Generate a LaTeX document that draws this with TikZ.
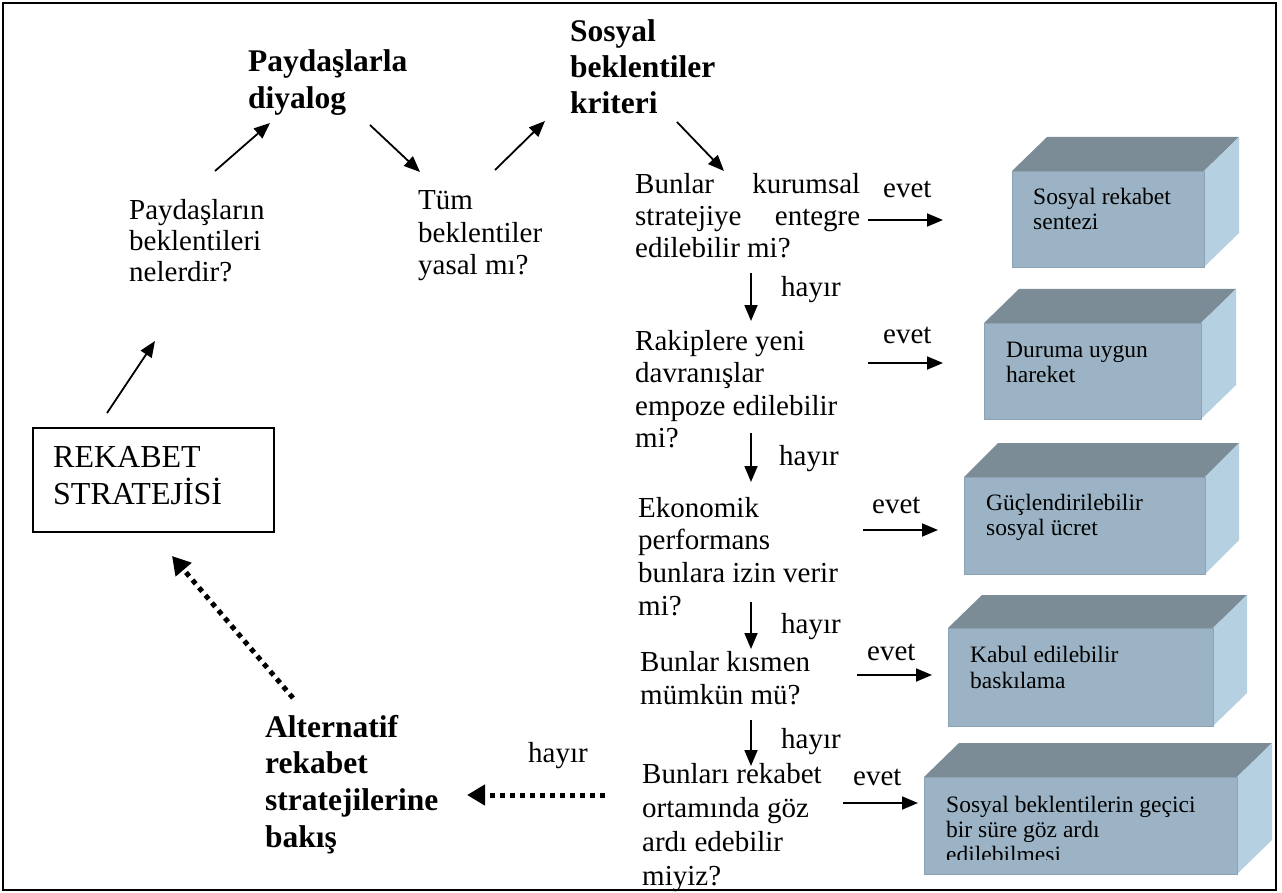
\documentclass[tikz,border=0pt]{standalone}
\usepackage{fontspec}
\setmainfont{Liberation Serif}
\usetikzlibrary{arrows.meta}

% multi-line text block whose reference point is the first baseline
\newcommand\textlines[2]{\parbox[t]{#1}{\raggedright #2}}

% a shaded 3D block: front face (x1,y1)-(x2,y2), depth (dx,dy)
\newcommand\blockshape[7]{%
  \fill[topface] (#2,#3) -- (#2+#6,#3-#7) -- (#4+#6,#3-#7) -- (#4,#3) -- cycle;
  \fill[sideface] (#4,#3) -- (#4+#6,#3-#7) -- (#4+#6,#5-#7) -- (#4,#5) -- cycle;
  \node[frontface, anchor=north west, minimum width=#4-#2, minimum height=#5-#3] (#1) at (#2,#3) {};
}

\definecolor{frontcol}{HTML}{9BB3C4}
\definecolor{frontedge}{HTML}{8CA3B4}
\definecolor{topcol}{HTML}{7B8C97}
\definecolor{sidecol}{HTML}{B4D0E1}

\tikzset{
  txt/.style={anchor=base west, inner sep=0pt, font=\fontsize{29}{33}\selectfont},
  head/.style={anchor=base west, inner sep=0pt, font=\bfseries\fontsize{31.5}{36.5}\selectfont},
  boxtxt/.style={anchor=base west, inner sep=0pt, font=\fontsize{23.5}{25}\selectfont},
  topface/.style={fill=topcol},
  sideface/.style={fill=sidecol},
  frontface/.style={fill=frontcol, draw=frontedge, line width=1.2pt, inner sep=0pt},
  flow/.style={line width=1.8pt, -{Triangle[length=16pt,width=13pt]}},
  dotflow/.style={line width=5pt, dash pattern=on 5pt off 5pt, -{Triangle[length=18pt,width=20pt]}}
}

\begin{document}
\begin{tikzpicture}[x=1pt, y=-1pt]
\useasboundingbox (0,0) rectangle (1282,893);
\fill[white] (0,0) rectangle (1282,893);
\draw[line width=2.2pt] (3,3) rectangle (1276,890);

% strategy box
\node[draw, line width=2pt, anchor=north west, minimum width=241pt, minimum height=104pt, inner sep=0pt] (strat) at (32,427) {};
\node[txt, font=\fontsize{32}{37}\selectfont] (strattxt) at (53,467) {\textlines{220pt}{REKABET\\STRATEJİSİ}};

% left-hand cycle
\node[txt, font=\fontsize{29}{31}\selectfont] (beklenti) at (129,220) {\textlines{200pt}{Paydaşların\\beklentileri\\nelerdir?}};
\node[head] (diyalog) at (248,72) {\textlines{250pt}{Paydaşlarla\\diyalog}};
\node[txt, font=\fontsize{29}{32.5}\selectfont] (yasal) at (418,210) {\textlines{200pt}{Tüm\\beklentiler\\yasal mı?}};
\node[head, font=\bfseries\fontsize{31.5}{35.8}\selectfont] (kriter) at (570,42) {\textlines{250pt}{Sosyal\\beklentiler\\kriteri}};

\coordinate (a1s) at (107,413); \coordinate (a1e) at (155,341);
\coordinate (a2s) at (215,171); \coordinate (a2e) at (270,123);
\coordinate (a3s) at (370,125); \coordinate (a3e) at (420,172);
\coordinate (a4s) at (495,170); \coordinate (a4e) at (545,121);
\coordinate (a5s) at (677,122); \coordinate (a5e) at (724,171);
\draw[flow] (a1s) -- (a1e);
\draw[flow] (a2s) -- (a2e);
\draw[flow] (a3s) -- (a3e);
\draw[flow] (a4s) -- (a4e);
\draw[flow] (a5s) -- (a5e);

% questions
\node[txt, font=\fontsize{29}{32}\selectfont] (q1) at (635,194) {\parbox[t]{225pt}{Bunlar\hfill kurumsal\\stratejiye\hfill entegre\\edilebilir mi?}};
\node[txt, font=\fontsize{29}{32.5}\selectfont] (q2) at (635,350) {\textlines{260pt}{Rakiplere yeni\\davranışlar\\empoze edilebilir\\mi?}};
\node[txt, font=\fontsize{29}{32.7}\selectfont] (q3) at (638,517) {\textlines{260pt}{Ekonomik\\performans\\bunlara izin verir\\mi?}};
\node[txt, font=\fontsize{29}{33}\selectfont] (q4) at (640,671) {\textlines{260pt}{Bunlar kısmen\\mümkün mü?}};
\node[txt, font=\fontsize{29}{34}\selectfont] (q5) at (642,783) {\textlines{260pt}{Bunları rekabet\\ortamında göz\\ardı edebilir\\miyiz?}};

% "no" steps
\coordinate (h1s) at (751,273); \coordinate (h1e) at (751,321);
\coordinate (h2s) at (751,433); \coordinate (h2e) at (751,482);
\coordinate (h3s) at (751,602); \coordinate (h3e) at (751,649);
\coordinate (h4s) at (751,720); \coordinate (h4e) at (751,766);
\draw[flow] (h1s) -- (h1e);
\draw[flow] (h2s) -- (h2e);
\draw[flow] (h3s) -- (h3e);
\draw[flow] (h4s) -- (h4e);
\node[txt] (hayir1) at (781,297) {hayır};
\node[txt] (hayir2) at (779,465) {hayır};
\node[txt] (hayir3) at (781,633) {hayır};
\node[txt] (hayir4) at (781,748) {hayır};

% "yes" steps
\coordinate (e1s) at (868,220); \coordinate (e1e) at (943,220);
\coordinate (e2s) at (868,363); \coordinate (e2e) at (943,363);
\coordinate (e3s) at (863,530); \coordinate (e3e) at (938,530);
\coordinate (e4s) at (857,675); \coordinate (e4e) at (932,675);
\coordinate (e5s) at (843,803); \coordinate (e5e) at (918,803);
\draw[flow] (e1s) -- (e1e);
\draw[flow] (e2s) -- (e2e);
\draw[flow] (e3s) -- (e3e);
\draw[flow] (e4s) -- (e4e);
\draw[flow] (e5s) -- (e5e);
\node[txt] (evet1) at (883,198) {evet};
\node[txt] (evet2) at (883,343) {evet};
\node[txt] (evet3) at (872,513) {evet};
\node[txt] (evet4) at (867,660) {evet};
\node[txt] (evet5) at (853,785) {evet};

% outcome blocks
\blockshape{r1}{1012}{171}{1204}{267}{35}{34}
\blockshape{r2}{984}{323}{1201}{419}{35}{34}
\blockshape{r3}{964}{477}{1205}{574}{34}{34}
\blockshape{r4}{948}{628}{1213}{726}{34}{33}
\blockshape{r5}{924}{777}{1237}{874}{35}{34}
\node[boxtxt] (r1t) at (1033,205) {\textlines{190pt}{Sosyal rekabet\\sentezi}};
\node[boxtxt] (r2t) at (1006,357) {\textlines{190pt}{Duruma uygun\\hareket}};
\node[boxtxt] (r3t) at (986,510) {\textlines{210pt}{Güçlendirilebilir\\sosyal ücret}};
\node[boxtxt, font=\fontsize{23.5}{26}\selectfont] (r4t) at (970,662) {\textlines{230pt}{Kabul edilebilir\\baskılama}};
\begin{scope}
  \clip (924,777) rectangle (1237,859);
  \node[boxtxt] (r5t) at (946,812) {\textlines{290pt}{Sosyal beklentilerin geçici\\bir süre göz ardı\\edilebilmesi}};
\end{scope}

% alternative strategies
\node[head, font=\bfseries\fontsize{31.5}{36.7}\selectfont] (alt) at (265,737) {\textlines{250pt}{Alternatif\\rekabet\\stratejilerine\\bakış}};
\node[txt] (hayir5) at (528,762) {hayır};
\coordinate (d1s) at (605,795); \coordinate (d1e) at (467,795);
\coordinate (d2s) at (293,698); \coordinate (d2e) at (172,556);
\draw[dotflow] (d1s) -- (d1e);
\draw[dotflow] (d2s) -- (d2e);
\end{tikzpicture}
\end{document}
